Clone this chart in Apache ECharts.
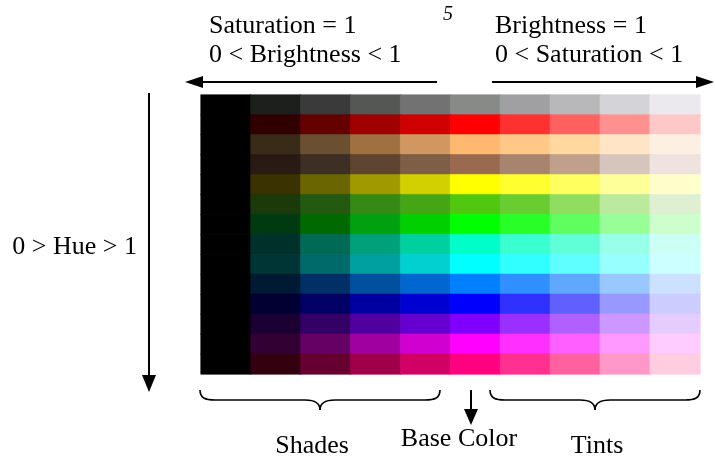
<!DOCTYPE html>
<html>
<head>
<meta charset="utf-8">
<script src="https://cdn.jsdelivr.net/npm/echarts@6/dist/echarts.min.js"></script>
<style>html,body{margin:0;padding:0;background:#fff}#c{width:715px;height:462px}</style>
</head>
<body>
<div id="c"></div>
<script>
// Columns: black, 4 shades, base colour, 4 tints
var columns = ['black', 'shade1', 'shade2', 'shade3', 'shade4', 'base', 'tint1', 'tint2', 'tint3', 'tint4'];
// Rows (hue order, top to bottom)
var rows = ['gray', 'red', 'orange', 'brown', 'yellow', 'chartreuse', 'green', 'spring', 'cyan', 'azure', 'blue', 'violet', 'magenta', 'rose'];

var grayRow       = ['#000000', '#1c1f1c', '#3a3a3a', '#555755', '#737273', '#888a88', '#a0a0a2', '#b8b8ba', '#d4d3d7', '#ece9ee'];
var redRow        = ['#000000', '#300000', '#650000', '#a00000', '#d00000', '#ff0000', '#ff3030', '#ff6060', '#ff9090', '#ffc8c8'];
var orangeRow     = ['#000000', '#3a2a18', '#6a5030', '#a07040', '#d09860', '#ffb870', '#ffc888', '#ffd8a0', '#ffe5c5', '#fdf0e3'];
var brownRow      = ['#000000', '#2a1a15', '#3e2f25', '#5e4530', '#7e5e45', '#9a6a50', '#a8846e', '#c0a08a', '#d5c5bd', '#f0e2de'];
var yellowRow     = ['#000000', '#3a3200', '#6a6500', '#a09a00', '#d2d000', '#ffff00', '#ffff30', '#ffff60', '#ffff9a', '#ffffcc'];
var chartreuseRow = ['#000000', '#1a3a0a', '#235a10', '#358a15', '#45a515', '#50c810', '#68cd30', '#90dd60', '#bbea9e', '#dff0d2'];
var greenRow      = ['#000000', '#003a10', '#006a00', '#00a010', '#00d000', '#00ff00', '#28ff28', '#60ff60', '#98ff98', '#ccffcc'];
var springRow     = ['#000000', '#00302a', '#006a55', '#00a07a', '#00d0a0', '#00ffc8', '#3affd0', '#60ffd8', '#98ffe8', '#ccfff5'];
var cyanRow       = ['#000000', '#003535', '#006a6a', '#00a0a0', '#00d0d0', '#00ffff', '#30ffff', '#60ffff', '#98ffff', '#ccffff'];
var azureRow      = ['#000000', '#001a33', '#003065', '#0050a0', '#0066d0', '#0080ff', '#3090ff', '#60a8ff', '#98c8ff', '#cce0ff'];
var blueRow       = ['#000000', '#000033', '#000065', '#0000a0', '#0000d0', '#0000ff', '#3030ff', '#6060ff', '#9898ff', '#ccccff'];
var violetRow     = ['#000000', '#1a0033', '#330065', '#5000a0', '#6600d0', '#8000ff', '#9a30ff', '#b060ff', '#cc98ff', '#e5ccff'];
var magentaRow    = ['#000000', '#330033', '#650065', '#a000a0', '#d000d0', '#ff00ff', '#ff30ff', '#ff60ff', '#ff98ff', '#ffccff'];
var roseRow       = ['#000000', '#330010', '#650030', '#a0004a', '#d00065', '#ff0080', '#ff3090', '#ff60a0', '#ff98c8', '#ffcce0'];

var rowColors = [grayRow, redRow, orangeRow, brownRow, yellowRow, chartreuseRow, greenRow, springRow, cyanRow, azureRow, blueRow, violetRow, magentaRow, roseRow];

var cells = [];
rowColors.forEach(function (row, r) {
  row.forEach(function (col, c) {
    cells.push({ value: [c, r, 1], itemStyle: { color: col, borderColor: col, borderWidth: 0.6 } });
  });
});

var serif = '"Liberation Serif", "Times New Roman", serif';
function txt(x, y, s, align, size, italic) {
  return { type: 'text', x: x, y: y, silent: true,
    style: { text: s, fill: '#000', align: align, verticalAlign: 'middle',
      font: (italic ? 'italic ' : '') + (size || 26) + 'px ' + serif } };
}
function ln(x1, y1, x2, y2, w) {
  return { type: 'line', silent: true, shape: { x1: x1, y1: y1, x2: x2, y2: y2 }, style: { stroke: '#000', lineWidth: w || 2 } };
}
function tri(pts) {
  return { type: 'polygon', silent: true, shape: { points: pts }, style: { fill: '#000' } };
}
function curve(x1, y1, c1x, c1y, c2x, c2y, x2, y2) {
  return { type: 'bezierCurve', silent: true,
    shape: { x1: x1, y1: y1, cpx1: c1x, cpy1: c1y, cpx2: c2x, cpy2: c2y, x2: x2, y2: y2 },
    style: { stroke: '#000', lineWidth: 1.6, fill: null } };
}
function brace(x1, x2, yTop, yMid, yTip) {
  var m = (x1 + x2) / 2;
  return [
    curve(x1, yTop, x1, yMid - 2, x1 + 5, yMid, x1 + 15, yMid),
    ln(x1 + 15, yMid, m - 15, yMid, 1.6),
    curve(m - 15, yMid, m - 5, yMid, m, yMid + 3, m, yTip),
    curve(m, yTip, m, yMid + 3, m + 5, yMid, m + 15, yMid),
    ln(m + 15, yMid, x2 - 15, yMid, 1.6),
    curve(x2 - 15, yMid, x2 - 5, yMid, x2, yMid - 2, x2, yTop)
  ];
}

var graphics = [
  txt(209, 26, 'Saturation = 1', 'left'),
  txt(209, 55, '0 < Brightness < 1', 'left'),
  txt(443, 15, '5', 'left', 20, true),
  txt(495, 26, 'Brightness = 1', 'left'),
  txt(495, 55, '0 < Saturation < 1', 'left'),
  ln(200, 82, 437, 82),
  tri([[185, 82], [203, 76], [203, 88]]),
  ln(492, 82, 700, 82),
  tri([[714, 82], [696, 76], [696, 88]]),
  ln(149, 93, 149, 378),
  tri([[149, 392], [142, 375], [156, 375]]),
  txt(137, 247, '0 > Hue > 1', 'right'),
  ln(471, 390, 471, 412),
  tri([[471, 425], [464, 409], [478, 409]]),
  txt(312, 446, 'Shades', 'center'),
  txt(459, 439, 'Base Color', 'center'),
  txt(597, 446, 'Tints', 'center')
].concat(brace(200, 440, 390, 400, 410), brace(490, 700, 390, 400, 410));

var chart = echarts.init(document.getElementById('c'), null, { renderer: 'canvas' });
chart.setOption({
  animation: false,
  backgroundColor: '#fff',
  grid: { left: 201, top: 95, width: 499, height: 279 },
  xAxis: { type: 'category', data: columns, show: false },
  yAxis: { type: 'category', data: rows, inverse: true, show: false },
  series: [{
    type: 'heatmap',
    data: cells,
    emphasis: { disabled: true }
  }],
  graphic: graphics
});
</script>
</body>
</html>
